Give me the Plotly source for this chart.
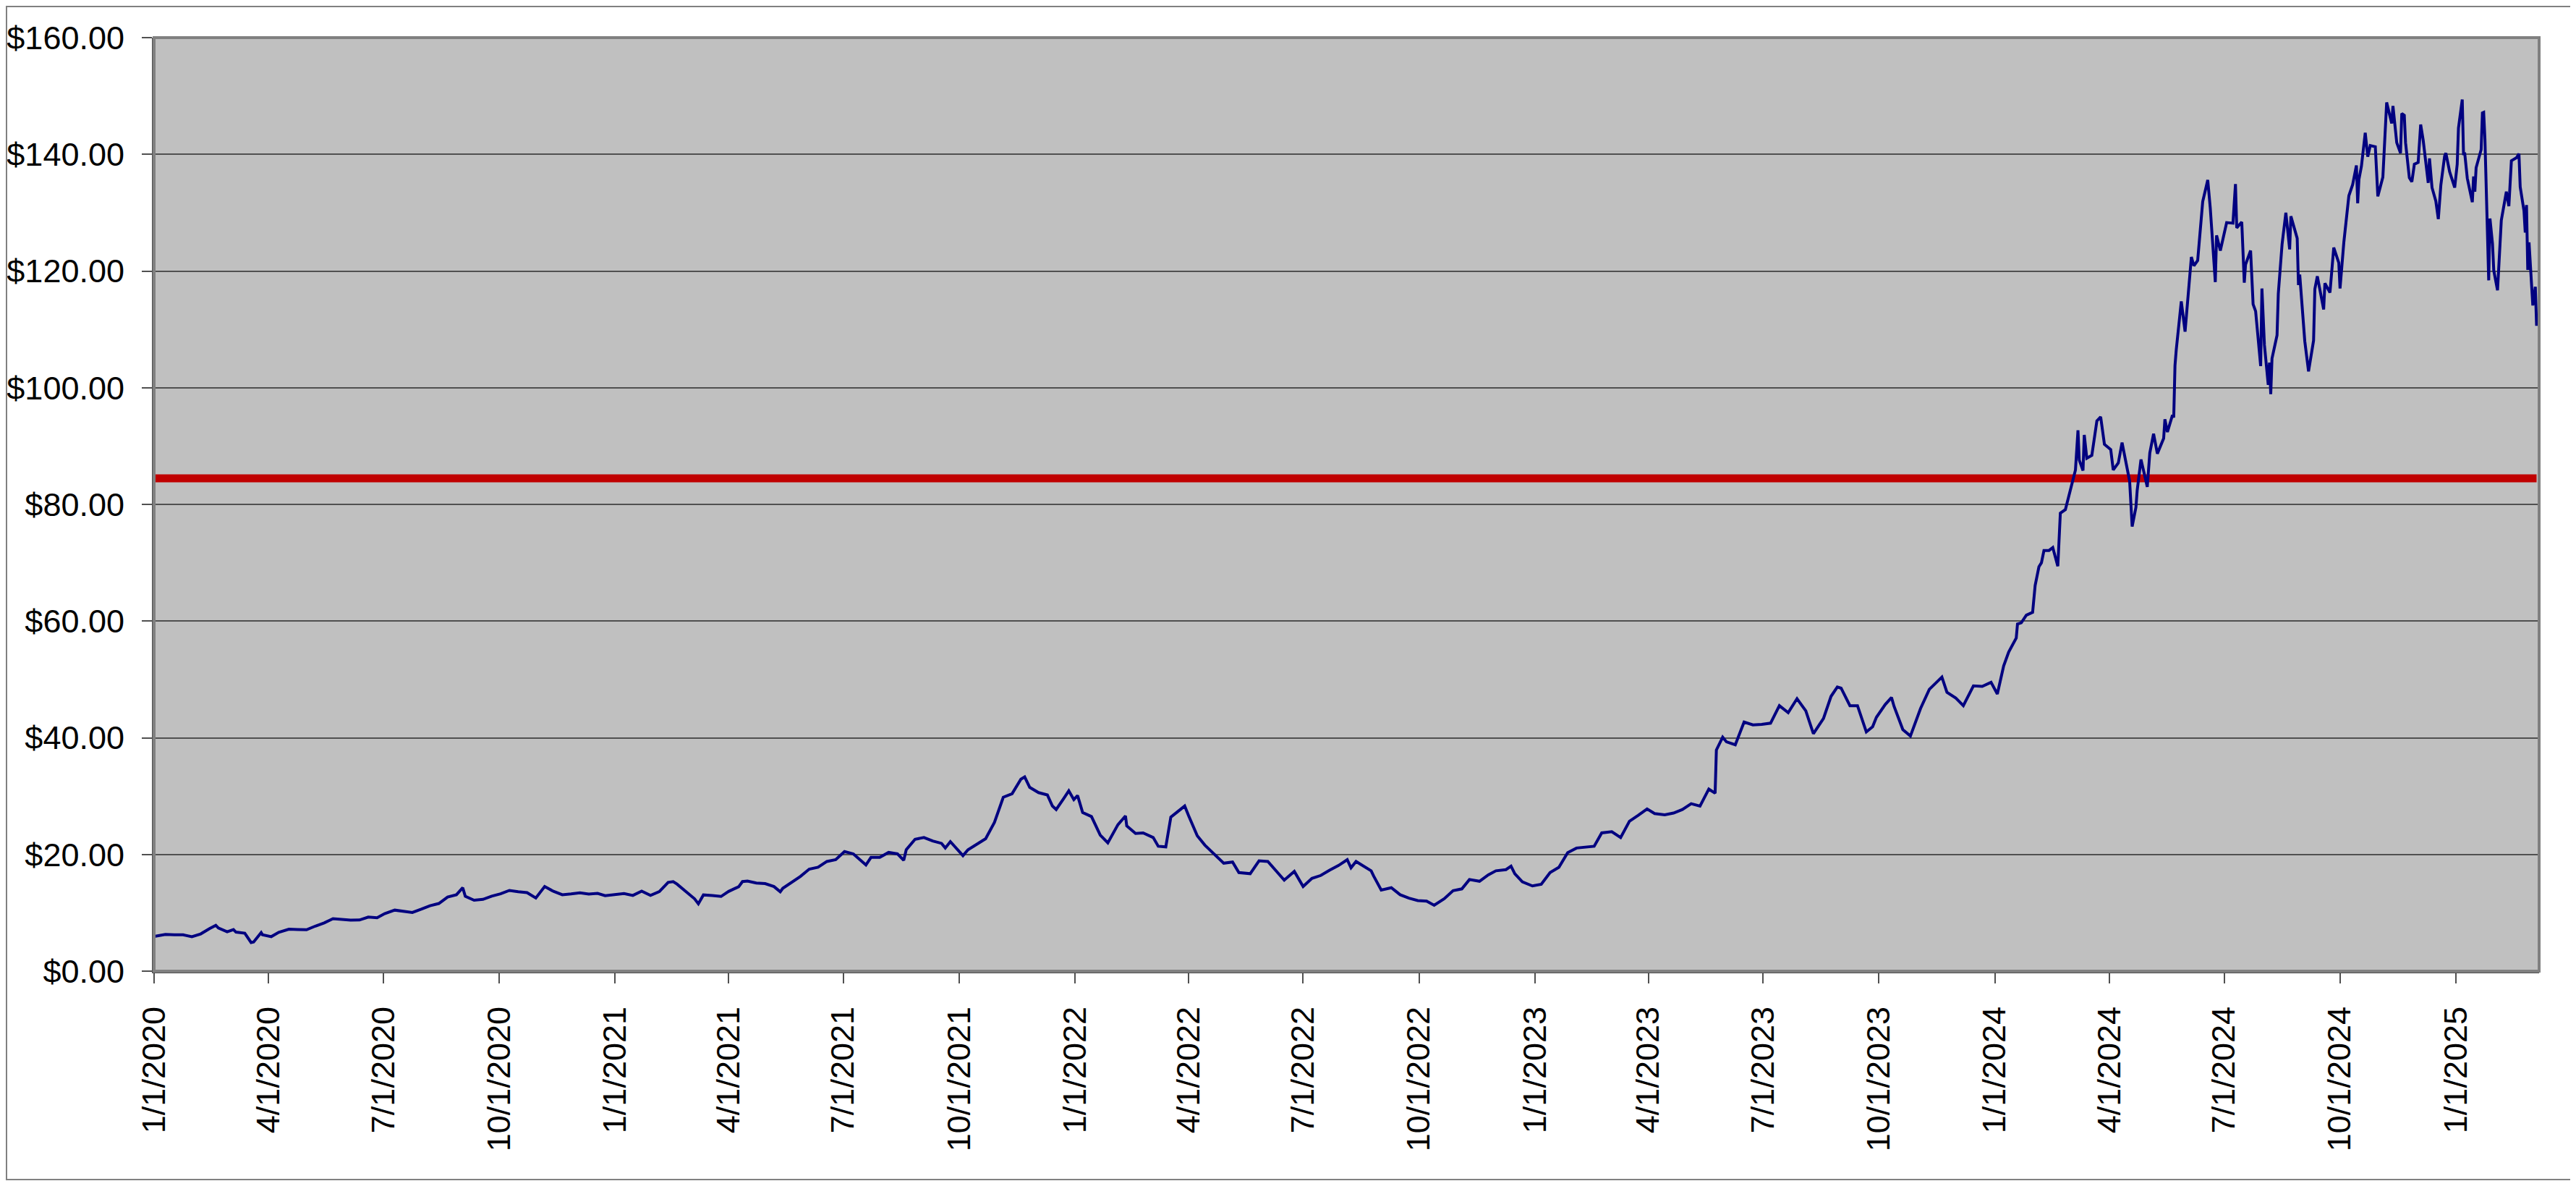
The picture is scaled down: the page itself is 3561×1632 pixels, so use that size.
import plotly.graph_objects as go

# closing prices (weekly-ish, denser where the line swings)
dates_2020 = ["2020-01-02", "2020-01-10", "2020-01-17", "2020-01-24", "2020-01-31", "2020-02-07", "2020-02-14",
              "2020-02-19", "2020-02-21", "2020-02-28", "2020-03-04", "2020-03-06", "2020-03-13", "2020-03-18",
              "2020-03-20", "2020-03-26", "2020-03-27", "2020-04-03", "2020-04-09", "2020-04-17", "2020-04-24",
              "2020-05-01", "2020-05-08", "2020-05-15", "2020-05-22", "2020-05-29", "2020-06-05", "2020-06-12",
              "2020-06-19", "2020-06-26", "2020-07-02", "2020-07-10", "2020-07-17", "2020-07-24", "2020-07-31",
              "2020-08-07", "2020-08-14", "2020-08-21", "2020-08-28", "2020-09-02", "2020-09-04", "2020-09-11",
              "2020-09-18", "2020-09-25", "2020-10-02", "2020-10-09", "2020-10-16", "2020-10-23", "2020-10-30",
              "2020-11-06", "2020-11-13", "2020-11-20", "2020-11-27", "2020-12-04", "2020-12-11", "2020-12-18",
              "2020-12-24", "2020-12-31"]
close_2020 = [5.99, 6.29, 6.22, 6.23, 5.91, 6.38, 7.28,
              7.85, 7.40, 6.75, 7.12, 6.69, 6.50, 4.90,
              5.00, 6.60, 6.25, 5.91, 6.66, 7.19, 7.13,
              7.10, 7.72, 8.26, 9.00, 8.87, 8.74, 8.76,
              9.26, 9.15, 9.85, 10.46, 10.21, 10.05, 10.61,
              11.21, 11.59, 12.70, 13.10, 14.30, 12.82, 12.16,
              12.30, 12.85, 13.25, 13.83, 13.62, 13.46, 12.54,
              14.50, 13.68, 13.10, 13.23, 13.43, 13.22, 13.32,
              12.94, 13.05]

dates_2021 = ["2021-01-08", "2021-01-15", "2021-01-22", "2021-01-29", "2021-02-05", "2021-02-12", "2021-02-16",
              "2021-02-19", "2021-02-26", "2021-03-05", "2021-03-08", "2021-03-12", "2021-03-19", "2021-03-26",
              "2021-04-01", "2021-04-09", "2021-04-12", "2021-04-16", "2021-04-23", "2021-04-30", "2021-05-07",
              "2021-05-12", "2021-05-14", "2021-05-21", "2021-05-28", "2021-06-04", "2021-06-11", "2021-06-18",
              "2021-06-25", "2021-07-02", "2021-07-09", "2021-07-19", "2021-07-23", "2021-07-30", "2021-08-06",
              "2021-08-13", "2021-08-18", "2021-08-20", "2021-08-27", "2021-09-03", "2021-09-10", "2021-09-17",
              "2021-09-20", "2021-09-24", "2021-10-04", "2021-10-08", "2021-10-15", "2021-10-22", "2021-10-29",
              "2021-11-05", "2021-11-12", "2021-11-19", "2021-11-22", "2021-11-26", "2021-12-03", "2021-12-10",
              "2021-12-14", "2021-12-17", "2021-12-23", "2021-12-27", "2021-12-31"]
close_2021 = [13.30, 12.98, 13.71, 12.99, 13.64, 15.22, 15.35,
              14.93, 13.69, 12.40, 11.55, 13.06, 12.95, 12.80,
              13.66, 14.47, 15.35, 15.45, 15.10, 15.01, 14.50,
              13.60, 14.20, 15.20, 16.24, 17.49, 17.80, 18.80,
              19.10, 20.50, 20.10, 18.20, 19.50, 19.50, 20.35,
              20.10, 19.00, 20.80, 22.60, 22.90, 22.30, 21.90,
              21.10, 22.20, 19.80, 20.80, 21.80, 22.70, 25.50,
              29.80, 30.40, 32.90, 33.30, 31.50, 30.60, 30.20,
              28.30, 27.70, 29.60, 30.90, 29.40]

dates_2022 = ["2022-01-03", "2022-01-07", "2022-01-14", "2022-01-21", "2022-01-27", "2022-02-04", "2022-02-10",
              "2022-02-11", "2022-02-18", "2022-02-24", "2022-03-04", "2022-03-08", "2022-03-14", "2022-03-18",
              "2022-03-25", "2022-03-29", "2022-04-01", "2022-04-08", "2022-04-14", "2022-04-22", "2022-04-29",
              "2022-05-06", "2022-05-11", "2022-05-20", "2022-05-27", "2022-06-03", "2022-06-10", "2022-06-16",
              "2022-06-24", "2022-07-01", "2022-07-08", "2022-07-15", "2022-07-22", "2022-07-29", "2022-08-05",
              "2022-08-08", "2022-08-12", "2022-08-19", "2022-08-24", "2022-08-26", "2022-09-01", "2022-09-09",
              "2022-09-16", "2022-09-23", "2022-09-30", "2022-10-07", "2022-10-13", "2022-10-21", "2022-10-28",
              "2022-11-04", "2022-11-10", "2022-11-18", "2022-11-25", "2022-12-01", "2022-12-09", "2022-12-13",
              "2022-12-16", "2022-12-22", "2022-12-30"]
close_2022 = [30.10, 27.20, 26.50, 23.30, 22.00, 25.10, 26.60,
              24.90, 23.60, 23.70, 22.90, 21.40, 21.30, 26.40,
              27.60, 28.30, 26.70, 23.20, 21.60, 20.00, 18.50,
              18.70, 16.90, 16.70, 18.90, 18.80, 17.00, 15.60,
              17.10, 14.50, 15.90, 16.40, 17.30, 18.10, 19.10,
              17.70, 18.80, 17.80, 17.20, 16.30, 13.90, 14.30,
              13.10, 12.50, 12.10, 12.00, 11.30, 12.40, 13.80,
              14.10, 15.70, 15.40, 16.50, 17.20, 17.40, 18.00,
              16.70, 15.30, 14.60]

dates_2023 = ["2023-01-06", "2023-01-13", "2023-01-20", "2023-01-27", "2023-02-03", "2023-02-10", "2023-02-17",
              "2023-02-23", "2023-03-03", "2023-03-10", "2023-03-17", "2023-03-24", "2023-03-31", "2023-04-06",
              "2023-04-14", "2023-04-21", "2023-04-28", "2023-05-05", "2023-05-12", "2023-05-19", "2023-05-24",
              "2023-05-25", "2023-05-30", "2023-06-02", "2023-06-09", "2023-06-16", "2023-06-23", "2023-06-30",
              "2023-07-07", "2023-07-14", "2023-07-21", "2023-07-28", "2023-08-04", "2023-08-10", "2023-08-18",
              "2023-08-24", "2023-08-29", "2023-09-01", "2023-09-08", "2023-09-14", "2023-09-21", "2023-09-26",
              "2023-09-29", "2023-10-06", "2023-10-11", "2023-10-13", "2023-10-20", "2023-10-26", "2023-11-03",
              "2023-11-10", "2023-11-20", "2023-11-24", "2023-12-01", "2023-12-07", "2023-12-15", "2023-12-22",
              "2023-12-29"]
close_2023 = [14.90, 16.90, 17.80, 20.30, 21.10, 21.20, 21.40,
              23.70, 23.90, 22.90, 25.70, 26.70, 27.80, 27.00,
              26.80, 27.10, 27.70, 28.70, 28.30, 31.20, 30.50,
              37.90, 40.10, 39.30, 38.80, 42.70, 42.20, 42.30,
              42.50, 45.50, 44.30, 46.70, 44.60, 40.70, 43.30,
              47.10, 48.70, 48.50, 45.50, 45.50, 41.00, 41.90,
              43.50, 45.70, 46.90, 45.40, 41.40, 40.30, 45.00,
              48.30, 50.40, 47.80, 46.80, 45.50, 48.90, 48.80,
              49.50]

dates_2024 = ["2024-01-03", "2024-01-08", "2024-01-12", "2024-01-18", "2024-01-19", "2024-01-22", "2024-01-26",
              "2024-01-31", "2024-02-02", "2024-02-05", "2024-02-07", "2024-02-09", "2024-02-13", "2024-02-16",
              "2024-02-20", "2024-02-22", "2024-02-26", "2024-03-01", "2024-03-05", "2024-03-07", "2024-03-08",
              "2024-03-11", "2024-03-12", "2024-03-14", "2024-03-18", "2024-03-22", "2024-03-25", "2024-03-28",
              "2024-04-02", "2024-04-04", "2024-04-08", "2024-04-11", "2024-04-15", "2024-04-17", "2024-04-19",
              "2024-04-22", "2024-04-23", "2024-04-26", "2024-05-01", "2024-05-03", "2024-05-06", "2024-05-09",
              "2024-05-14", "2024-05-15", "2024-05-17", "2024-05-21", "2024-05-22", "2024-05-23", "2024-05-24",
              "2024-05-28", "2024-05-31", "2024-06-05", "2024-06-07", "2024-06-10", "2024-06-14", "2024-06-18",
              "2024-06-20", "2024-06-24", "2024-06-25", "2024-06-28", "2024-07-03", "2024-07-08", "2024-07-10",
              "2024-07-11", "2024-07-15", "2024-07-17", "2024-07-18", "2024-07-22", "2024-07-24", "2024-07-26",
              "2024-07-30", "2024-07-31", "2024-08-02", "2024-08-05", "2024-08-06", "2024-08-07", "2024-08-08",
              "2024-08-12", "2024-08-13", "2024-08-16", "2024-08-19", "2024-08-22", "2024-08-23", "2024-08-28",
              "2024-08-29", "2024-08-30", "2024-09-03", "2024-09-04", "2024-09-06", "2024-09-10", "2024-09-11",
              "2024-09-13", "2024-09-18", "2024-09-19", "2024-09-23", "2024-09-26", "2024-09-30", "2024-10-01",
              "2024-10-04", "2024-10-08", "2024-10-11", "2024-10-14", "2024-10-15", "2024-10-16", "2024-10-18",
              "2024-10-21", "2024-10-23", "2024-10-25", "2024-10-29", "2024-10-31", "2024-11-04", "2024-11-07",
              "2024-11-11", "2024-11-12", "2024-11-15", "2024-11-18", "2024-11-19", "2024-11-21", "2024-11-22",
              "2024-11-25", "2024-11-27", "2024-11-29", "2024-12-02", "2024-12-04", "2024-12-06", "2024-12-10",
              "2024-12-11", "2024-12-13", "2024-12-16", "2024-12-18", "2024-12-20", "2024-12-23", "2024-12-24",
              "2024-12-27", "2024-12-31"]
close_2024 = [47.50, 52.30, 54.70, 57.10, 59.50, 59.70, 61.00,
              61.50, 66.10, 69.30, 70.00, 72.10, 72.10, 72.60,
              69.40, 78.50, 79.10, 82.30, 85.90, 92.70, 87.60,
              85.80, 91.90, 87.90, 88.40, 94.30, 95.00, 90.30,
              89.40, 85.90, 87.10, 90.60, 86.00, 84.00, 76.20,
              79.50, 82.40, 87.70, 83.00, 88.80, 92.10, 88.70,
              91.30, 94.60, 92.40, 95.30, 94.90, 103.80, 106.50,
              114.80, 109.60, 122.40, 120.90, 121.80, 131.90, 135.60,
              130.80, 118.10, 126.10, 123.50, 128.30, 128.20, 134.90,
              127.40, 128.40, 118.00, 121.10, 123.50, 114.30, 113.10,
              103.70, 117.00, 107.30, 100.50, 104.30, 98.90, 105.00,
              109.00, 116.10, 124.60, 130.00, 123.70, 129.40, 125.60,
              117.60, 119.40, 108.00, 106.20, 102.80, 108.10, 116.90,
              119.10, 113.40, 117.90, 116.30, 124.00, 121.40, 117.00,
              124.90, 132.90, 134.80, 138.10, 131.60, 135.70, 138.00,
              143.70, 139.60, 141.50, 141.30, 132.80, 136.10, 148.90,
              145.30, 148.30, 142.00, 140.20, 147.00, 146.70, 142.00,
              136.00, 135.30, 138.30, 138.60, 145.10, 142.40, 135.10,
              139.30, 134.30, 132.00, 128.90, 134.70, 139.70, 140.20,
              137.00, 134.30]

dates_2025 = ["2025-01-02", "2025-01-03", "2025-01-06", "2025-01-07", "2025-01-08", "2025-01-10", "2025-01-14",
              "2025-01-15", "2025-01-16", "2025-01-17", "2025-01-21", "2025-01-22", "2025-01-23", "2025-01-24",
              "2025-01-27", "2025-01-28", "2025-01-30", "2025-01-31", "2025-02-03", "2025-02-05", "2025-02-06",
              "2025-02-10", "2025-02-12", "2025-02-14", "2025-02-18", "2025-02-20", "2025-02-21", "2025-02-24",
              "2025-02-25", "2025-02-26", "2025-02-27", "2025-02-28", "2025-03-03", "2025-03-05", "2025-03-06"]
close_2025 = [138.30, 144.50, 149.40, 140.10, 140.10, 135.90, 131.80,
              136.20, 133.60, 137.70, 140.80, 147.10, 147.20, 142.60,
              118.40, 129.00, 124.70, 120.10, 116.70, 124.80, 128.70,
              133.60, 131.10, 138.90, 139.40, 140.10, 134.40, 130.30,
              126.60, 131.30, 120.20, 124.90, 114.10, 117.30, 110.60]

ref_level = 84.45  # the red horizontal line

tick_dates = ["2020-01-01", "2020-04-01", "2020-07-01", "2020-10-01", "2021-01-01", "2021-04-01", "2021-07-01",
              "2021-10-01", "2022-01-01", "2022-04-01", "2022-07-01", "2022-10-01", "2023-01-01", "2023-04-01",
              "2023-07-01", "2023-10-01", "2024-01-01", "2024-04-01", "2024-07-01", "2024-10-01", "2025-01-01"]
tick_text = ["1/1/2020", "4/1/2020", "7/1/2020", "10/1/2020", "1/1/2021", "4/1/2021", "7/1/2021",
             "10/1/2021", "1/1/2022", "4/1/2022", "7/1/2022", "10/1/2022", "1/1/2023", "4/1/2023",
             "7/1/2023", "10/1/2023", "1/1/2024", "4/1/2024", "7/1/2024", "10/1/2024", "1/1/2025"]
x_start, x_end = "2020-01-01", "2025-03-08"

dates = dates_2020 + dates_2021 + dates_2022 + dates_2023 + dates_2024 + dates_2025
closes = close_2020 + close_2021 + close_2022 + close_2023 + close_2024 + close_2025

# page body keeps an 8px margin, so the figure is 8px smaller and margins shifted
W, H = 3553, 1624
L, R, T, B = 205, 51, 44, 290
pw, ph = W - L - R, H - T - B

fig = go.Figure()
fig.add_trace(go.Scatter(x=[dates[0], dates[-1]], y=[ref_level, ref_level], mode="lines",
                         line=dict(color="#C00000", width=11), hoverinfo="skip"))
fig.add_trace(go.Scatter(x=dates, y=closes, mode="lines", line=dict(color="#000080", width=4)))

axis_font = dict(family="Liberation Sans, Arial, sans-serif", size=45, color="black")

fig.update_layout(
    width=W, height=H,
    margin=dict(l=L, r=R, t=T, b=B, pad=0),
    paper_bgcolor="white", plot_bgcolor="#C0C0C0",
    showlegend=False,
    font=axis_font,
    xaxis=dict(type="date", range=[x_start, x_end], tickvals=tick_dates, ticktext=tick_text,
               tickangle=-90, ticks="outside", ticklen=14, tickwidth=2, tickcolor="#505050",
               showgrid=False, zeroline=False, showline=True, linecolor="#505050", linewidth=3,
               tickfont=axis_font, ticklabelstandoff=14, automargin=False),
    yaxis=dict(range=[0, 160], dtick=20, tick0=0, tickprefix="$", tickformat=",.2f",
               ticks="outside", ticklen=14, tickwidth=2, tickcolor="#505050",
               showgrid=True, gridcolor="#505050", gridwidth=2, zeroline=False,
               showline=True, linecolor="#505050", linewidth=3, tickfont=axis_font,
               ticklabelstandoff=15, automargin=False),
)

# plot-area frame and the thin outer chart border
fig.add_shape(type="rect", xref="paper", yref="paper", x0=0, x1=1, y0=0, y1=1,
              line=dict(color="#808080", width=4), layer="above")
fig.add_shape(type="rect", xref="paper", yref="paper",
              x0=-(L - 1) / pw, x1=1 + (R - 2) / pw, y0=-(B - 2) / ph, y1=1 + (T - 1) / ph,
              line=dict(color="#808080", width=2))

fig.write_html("out.html")
